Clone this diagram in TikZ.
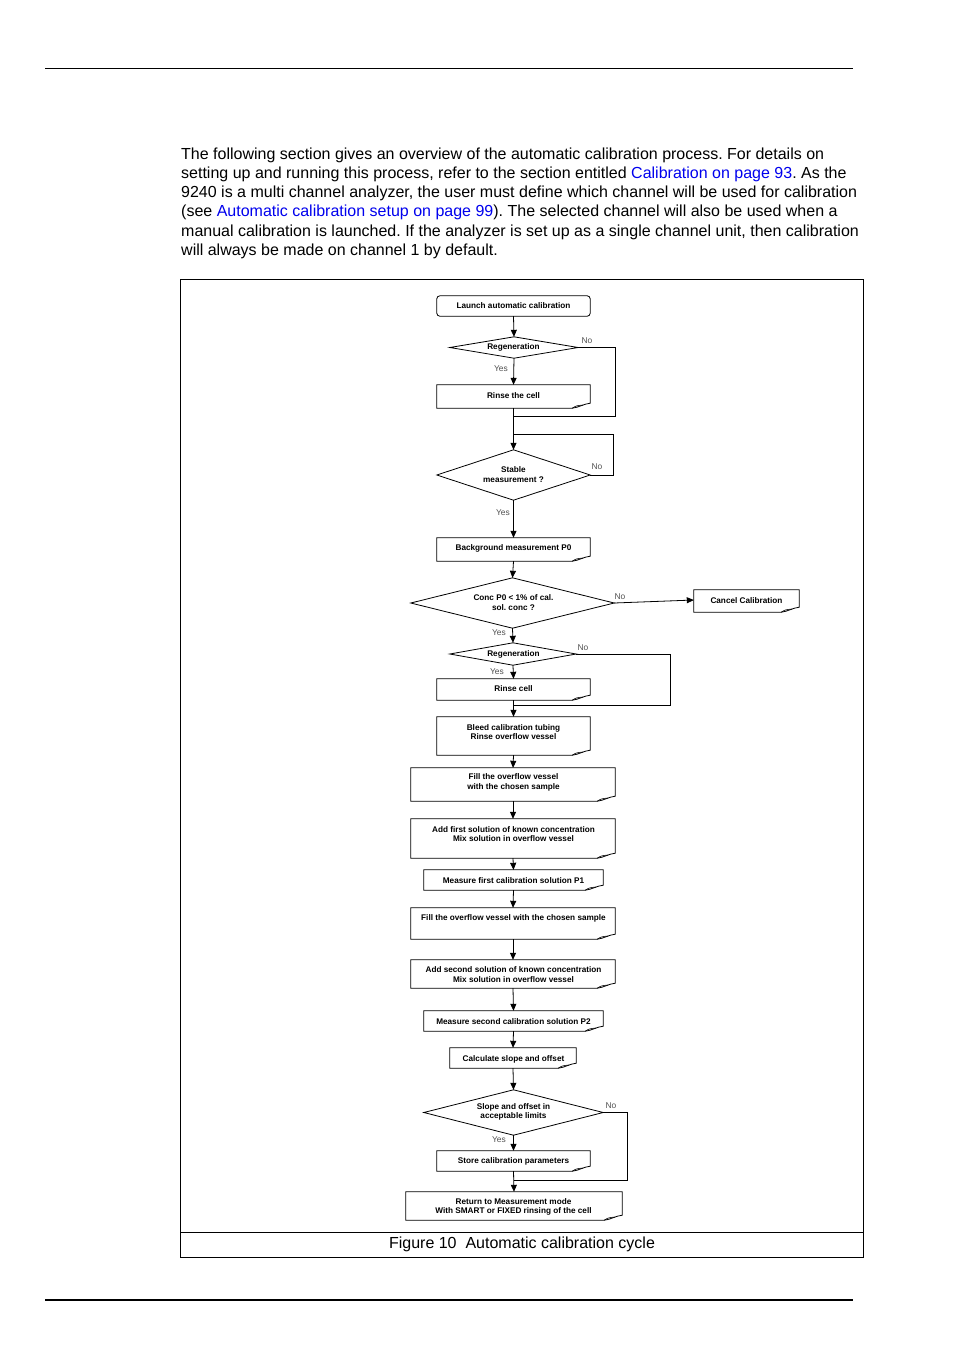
\documentclass[tikz,border=0pt]{standalone}
\usepackage{fontspec}
\setmainfont{Liberation Sans}
\usetikzlibrary{arrows.meta,fit,calc}
\definecolor{linkblue}{RGB}{0,0,238}
\definecolor{yesgray}{RGB}{80,80,80}
\tikzset{
  fc/.style={line width=0.8pt},
  area/.style={inner sep=0pt, draw=none, rectangle},
  lbl/.style={font=\fontsize{8.2}{9.6}\selectfont\bfseries, align=center, inner sep=0pt},
  yn/.style={font=\fontsize{8.4}{9}\selectfont, text=yesgray, inner sep=0pt},
  arr/.style={fc, -{Triangle[length=7pt,width=6pt]}},
  plain/.style={fc},
  body/.style={font=\fontsize{16}{19}\selectfont, anchor=base west, inner sep=0pt},
}
\newcommand\docoutline[1]{%
  \draw[fc] (#1.north west) -- (#1.north east) -- ([yshift=5pt]#1.south east)
    .. controls ([xshift=-6pt,yshift=4.5pt]#1.south east) and ([xshift=-12pt,yshift=0.5pt]#1.south east) .. ([xshift=-18pt]#1.south east)
    -- (#1.south west) -- cycle;
  \draw[line width=0.6pt] ([xshift=-18pt]#1.south east) .. controls ([xshift=-14pt,yshift=2.5pt]#1.south east) .. ([xshift=-7pt,yshift=3.2pt]#1.south east);
}
\newcommand\diaoutline[1]{%
  \draw[fc] (#1.north) -- (#1.east) -- (#1.south) -- (#1.west) -- cycle;
}
\begin{document}
\frenchspacing
\begin{tikzpicture}[x=1pt,y=-1pt]
\useasboundingbox (0,0) rectangle (954,1350);
\fill[white] (0,0) rectangle (954,1350);

% page rules
\coordinate (rt1) at (45,68); \coordinate (rt2) at (853,68);
\draw[line width=0.9pt] (rt1) -- (rt2);
\coordinate (rb1) at (45,1300); \coordinate (rb2) at (853,1300);
\draw[line width=2pt] (rb1) -- (rb2);

% body text
\node[body] (l1) at (181,159) {The following section gives an overview of the automatic calibration process. For details on};
\node[body] (l2) at (181,178.3) {setting up and running this process, refer to the section entitled \textcolor{linkblue}{Calibration on page 93}. As the};
\node[body] (l3) at (181,197.6) {9240 is a multi channel analyzer, the user must define which channel will be used for calibration};
\node[body] (l4) at (181,216.9) {(see \textcolor{linkblue}{Automatic calibration setup on page 99}). The selected channel will also be used when a};
\node[body] (l5) at (181,236.2) {manual calibration is launched. If the analyzer is set up as a single channel unit, then calibration};
\node[body] (l6) at (181,255.5) {will always be made on channel 1 by default.};

% figure frame
\node[area, fit={(181,280)(863,1257)}] (frame) {};
\draw[line width=0.9pt] (frame.north west) rectangle (frame.south east);
\coordinate (cap1) at (181,1232); \coordinate (cap2) at (863,1232);
\draw[line width=0.9pt] (cap1) -- (cap2);
\node[font=\fontsize{16}{18}\selectfont, inner sep=0pt] (caption) at (522,1244.5) {Figure 10\ \ Automatic calibration cycle};

% ---- flowchart nodes ----
\node[area, fit={(437,296)(590,316)}] (launch) {};
\draw[fc, rounded corners=3pt] (launch.north west) rectangle (launch.south east);
\node[lbl] (tlaunch) at (513.5,306) {Launch automatic calibration};

\node[area, fit={(450,337)(578,358)}] (reg1) {};
\diaoutline{reg1}
\node[lbl] (treg1) at (513.5,347.5) {Regeneration};

\node[area, fit={(437,385)(590,408)}] (rinse1) {};
\docoutline{rinse1}
\node[lbl] (trinse1) at (513.5,395.5) {Rinse the cell};

\node[area, fit={(437,450)(590,500)}] (stable) {};
\diaoutline{stable}
\node[lbl] (tstable) at (513.5,474.5) {Stable\\measurement ?};

\node[area, fit={(437,538)(590,561)}] (bg) {};
\docoutline{bg}
\node[lbl] (tbg) at (513.5,548.5) {Background measurement P0};

\node[area, fit={(411,578)(614,628)}] (conc) {};
\diaoutline{conc}
\node[lbl] (tconc) at (513.5,602.5) {Conc P0 < 1\% of cal.\\sol. conc ?};

\node[area, fit={(694,590)(799,612)}] (cancel) {};
\docoutline{cancel}
\node[lbl] (tcancel) at (746.5,600.5) {Cancel Calibration};

\node[area, fit={(450,643)(576,665)}] (reg2) {};
\diaoutline{reg2}
\node[lbl] (treg2) at (513.5,654.5) {Regeneration};

\node[area, fit={(437,679)(590,700)}] (rinse2) {};
\docoutline{rinse2}
\node[lbl] (trinse2) at (513.5,688.5) {Rinse cell};

\node[area, fit={(437,717)(590,755)}] (bleed) {};
\docoutline{bleed}
\node[lbl] (tbleed) at (513.5,732) {Bleed calibration tubing\\Rinse overflow vessel};

\node[area, fit={(411,768)(615,801)}] (fill1) {};
\docoutline{fill1}
\node[lbl] (tfill1) at (513.5,782.5) {Fill the overflow vessel\\with the chosen sample};

\node[area, fit={(411,819)(615,858)}] (add1) {};
\docoutline{add1}
\node[lbl] (tadd1) at (513.5,834) {Add first solution of known concentration\\Mix solution in overflow vessel};

\node[area, fit={(424,870)(603,890)}] (meas1) {};
\docoutline{meas1}
\node[lbl] (tmeas1) at (513.5,880.5) {Measure first calibration solution P1};

\node[area, fit={(411,908)(615,939)}] (fill2) {};
\docoutline{fill2}
\node[lbl] (tfill2) at (513.5,918.5) {Fill the overflow vessel with the chosen sample};

\node[area, fit={(411,960)(615,988)}] (add2) {};
\docoutline{add2}
\node[lbl] (tadd2) at (513.5,974.5) {Add second solution of known concentration\\Mix solution in overflow vessel};

\node[area, fit={(424,1011)(603,1031)}] (meas2) {};
\docoutline{meas2}
\node[lbl] (tmeas2) at (513.5,1021.5) {Measure second calibration solution P2};

\node[area, fit={(450,1048)(576,1068)}] (calc) {};
\docoutline{calc}
\node[lbl] (tcalc) at (513.5,1059) {Calculate slope and offset};

\node[area, fit={(424,1090)(603,1135)}] (slope) {};
\diaoutline{slope}
\node[lbl] (tslope) at (513.5,1112) {Slope and offset in\\acceptable limits};

\node[area, fit={(437,1151)(590,1171)}] (store) {};
\docoutline{store}
\node[lbl] (tstore) at (513.5,1161.5) {Store calibration parameters};

\node[area, fit={(406,1192)(622,1220)}] (ret) {};
\docoutline{ret}
\node[lbl] (tret) at (513.5,1207) {Return to Measurement mode\\With SMART or FIXED rinsing of the cell};

% ---- connectors ----
\draw[arr] (launch.south) -- (reg1.north);
\draw[arr] (reg1.south) -- (rinse1.north);
\coordinate (j1) at (513.5,416); \coordinate (j1r) at (615,416);
\draw[plain] (reg1.east) -| (j1r) -- (j1);
\draw[arr] (rinse1.south) -- (stable.north);
\coordinate (j2) at (513.5,434); \coordinate (j2r) at (613,434);
\draw[plain] (stable.east) -| (j2r) -- (j2);
\draw[arr] (stable.south) -- (bg.north);
\draw[arr] (bg.south) -- (conc.north);
\draw[arr] (conc.east) -- ([yshift=1pt]cancel.west);
\draw[arr] (conc.south) -- (reg2.north);
\draw[arr] (reg2.south) -- (rinse2.north);
\coordinate (j3) at (513.5,705); \coordinate (j3r) at (670,705);
\draw[plain] (reg2.east) -| (j3r) -- (j3);
\draw[arr] (rinse2.south) -- (bleed.north);
\draw[arr] (bleed.south) -- (fill1.north);
\draw[arr] (fill1.south) -- (add1.north);
\draw[arr] (add1.south) -- (meas1.north);
\draw[arr] (meas1.south) -- (fill2.north);
\draw[arr] (fill2.south) -- (add2.north);
\draw[arr] (add2.south) -- (meas2.north);
\draw[arr] (meas2.south) -- (calc.north);
\draw[arr] (calc.south) -- (slope.north);
\draw[arr] (slope.south) -- (store.north);
\coordinate (j4) at (513.5,1180); \coordinate (j4r) at (627,1180);
\draw[plain] (slope.east) -| (j4r) -- (j4);
\draw[arr] (store.south) -- (ret.north);

% yes / no labels
\node[yn] (n1) at (587,341) {No};
\node[yn] (y1) at (501,369) {Yes};
\node[yn] (n2) at (597,467) {No};
\node[yn] (y2) at (503,513) {Yes};
\node[yn] (n3) at (620,597) {No};
\node[yn] (y3) at (499,633) {Yes};
\node[yn] (n4) at (583,648) {No};
\node[yn] (y4) at (497,672) {Yes};
\node[yn] (n5) at (611,1106) {No};
\node[yn] (y5) at (499,1140) {Yes};
\end{tikzpicture}
\end{document}
